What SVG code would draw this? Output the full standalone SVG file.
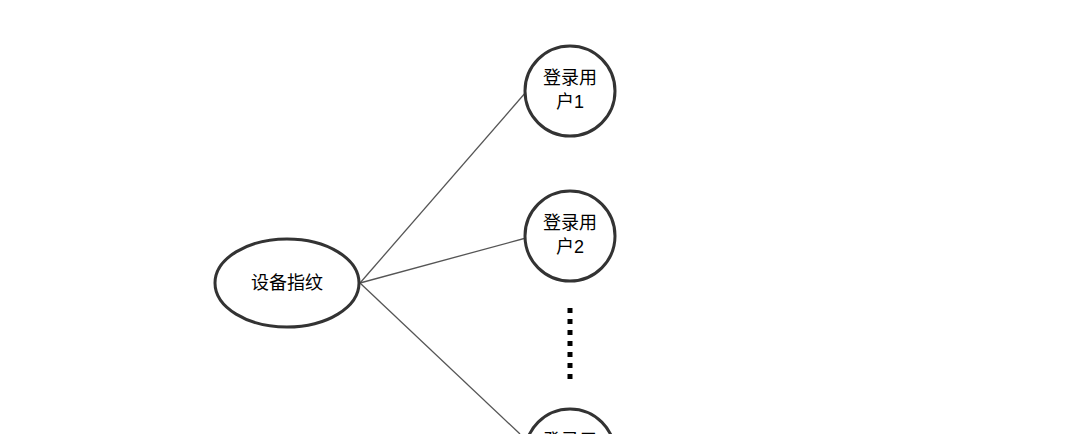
<svg xmlns="http://www.w3.org/2000/svg" width="1080" height="434" viewBox="0 0 1080 434">
<style>
.n{fill:#fff;stroke:#333;stroke-width:3}
.t{font-family:"Liberation Sans","Noto Sans CJK SC",sans-serif;font-size:18px;fill:#000;text-anchor:middle}
.c{stroke:#555;stroke-width:1.3;fill:none}
</style>
<rect width="1080" height="434" fill="#fff"/>
<g id="connectors">
<line class="c" x1="360" y1="283" x2="526" y2="92"/>
<line class="c" x1="360" y1="283" x2="526" y2="238"/>
<line class="c" x1="360" y1="283" x2="520" y2="434"/>
<line x1="570" y1="308" x2="570" y2="380" stroke="#000" stroke-width="5" stroke-dasharray="5,6"/>
</g>
<g id="fp"><ellipse class="n" cx="287" cy="283" rx="72" ry="44"/><text class="t" x="287" y="289">设备指纹</text></g>
<g id="u1"><circle class="n" cx="570" cy="91" r="45"/><text class="t" x="570" y="84">登录用</text><text class="t" x="570" y="108">户1</text></g>
<g id="u2"><circle class="n" cx="570" cy="236" r="45"/><text class="t" x="570" y="229">登录用</text><text class="t" x="570" y="253">户2</text></g>
<g id="u3"><circle class="n" cx="570" cy="454" r="45"/><text class="t" x="570" y="447">登录用</text></g>
</svg>
